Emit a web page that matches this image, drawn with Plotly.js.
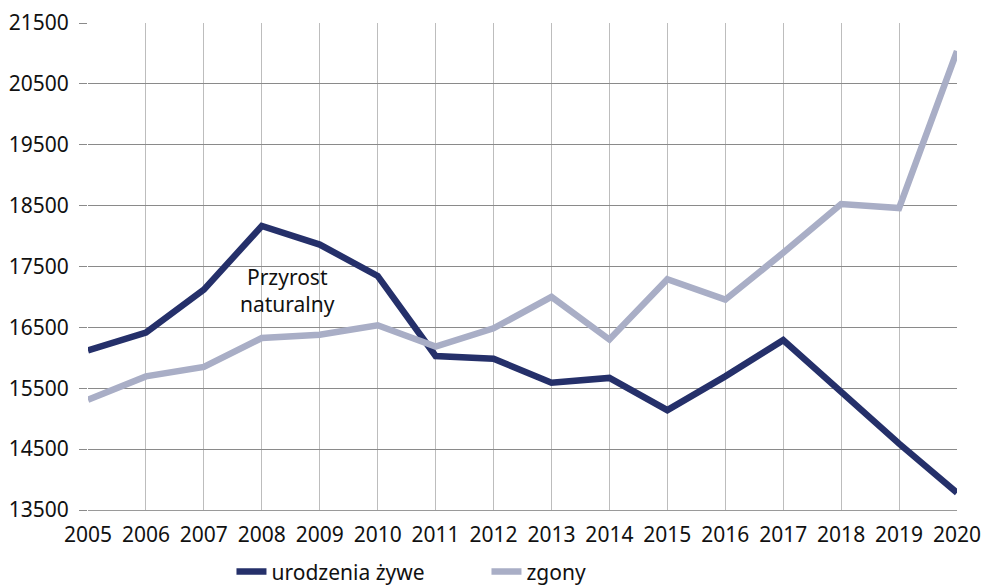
<!DOCTYPE html>
<html>
<head>
<meta charset="utf-8">
<script src="https://cdn.plot.ly/plotly-3.0.1.min.js"></script>
<style>html,body{margin:0;padding:0;background:#fff;}#chart{width:985px;height:587px;}</style>
</head>
<body>
<div id="chart"></div>
<script>
const years = [2005,2006,2007,2008,2009,2010,2011,2012,2013,2014,2015,2016,2017,2018,2019,2020];
const urodzenia = [16120,16415,17120,18165,17860,17345,16030,15985,15590,15670,15140,15695,16290,15425,14590,13785];
const zgony = [15310,15695,15850,16325,16378,16535,16185,16485,17000,16300,17290,16955,17725,18525,18460,21040];
const yTicks = [13500,14500,15500,16500,17500,18500,19500,20500,21500];
const seriesNames = ['urodzenia żywe','zgony'];
const annotationText = 'Przyrost<br>naturalny';

const FONT = '"Noto Sans", "Open Sans", sans-serif';
const traces = [
  {x: years, y: urodzenia, name: seriesNames[0], mode: 'lines', type: 'scatter', cliponaxis: false,
   line: {color: '#25306a', width: 6.5}},
  {x: years, y: zgony, name: seriesNames[1], mode: 'lines', type: 'scatter', cliponaxis: false,
   line: {color: '#a9aec6', width: 6.5}}
];
const layout = {
  width: 985, height: 587,
  margin: {l: 88, r: 28, t: 23, b: 77, autoexpand: false},
  paper_bgcolor: '#fff', plot_bgcolor: '#fff',
  font: {family: FONT, size: 21, color: '#111'},
  showlegend: true,
  legend: {orientation: 'h', x: 0.235, xanchor: 'left', xref: 'container', y: -0.085, yref: 'paper', yanchor: 'top',
           entrywidth: 210, entrywidthmode: 'pixels',
           font: {family: FONT, size: 21, color: '#111'}, traceorder: 'normal'},
  xaxis: {range: [2005, 2020], tickvals: years, ticktext: years.map(String),
          showgrid: true, gridcolor: '#bdbdbd', gridwidth: 1, zeroline: false,
          showline: true, linecolor: '#9a9a9a', linewidth: 1, ticks: '', fixedrange: true, ticklabelstandoff: 6,
          tickfont: {family: FONT, size: 21, color: '#111'}},
  yaxis: {range: [13500, 21500], tickvals: yTicks, ticktext: yTicks.map(String),
          showgrid: true, gridcolor: '#8a8a8a', gridwidth: 1, zeroline: false,
          showline: false, ticks: 'outside', ticklen: 8, tickcolor: '#8a8a8a', ticklabelstandoff: 6,
          tickfont: {family: FONT, size: 21, color: '#111'}, fixedrange: true},
  annotations: [{x: 2008.44, y: 17100, xref: 'x', yref: 'y', text: annotationText, showarrow: false,
                 font: {family: FONT, size: 21, color: '#111'}, align: 'center'}]
};
Plotly.newPlot('chart', traces, layout, {displayModeBar: false, staticPlot: true});
</script>
</body>
</html>
